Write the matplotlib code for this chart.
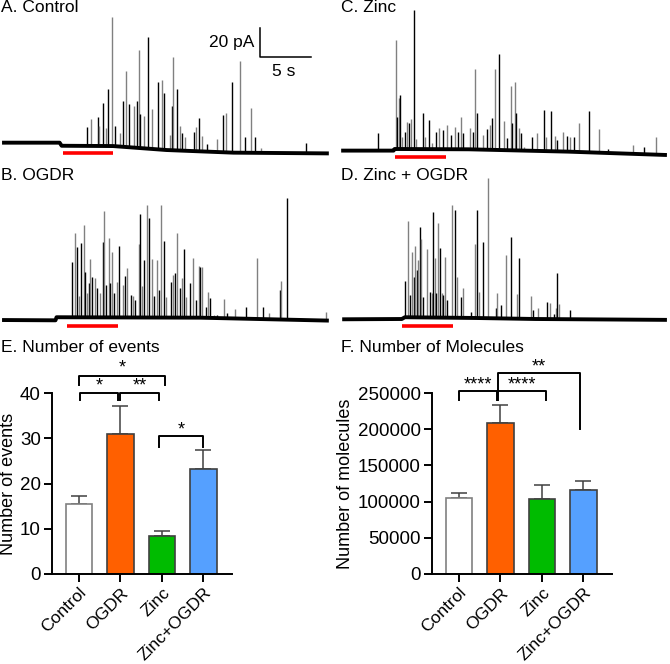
import matplotlib
matplotlib.use('Agg')
import matplotlib.pyplot as plt
import numpy as np

plt.rcParams['font.family'] = ['Liberation Sans', 'DejaVu Sans']
plt.rcParams['font.size'] = 12.5

W, H = 670, 664

# ---------------- amperometric traces (time in s, current in pA) ----------------
# A. Control
ctrl_base_t = [0.2, 5.8, 6.0, 11.0, 16.2, 22.7, 32.0]
ctrl_base_i = [7.3, 7.3, 5.2, 5.0, 2.3, 0.5, 0.0]
ctrl_spike_t = [8.5, 8.9, 9.5, 9.6, 10.0, 10.3, 10.5, 10.9, 11.2, 11.7, 12.0, 12.3,
                12.6, 13.0, 13.3, 13.5, 13.6, 14.0, 14.4, 14.8, 15.4, 15.8, 16.0, 16.5,
                16.7, 16.8, 17.2, 17.5, 17.7, 18.0, 18.9, 19.1, 19.4, 19.7, 20.1, 21.1,
                21.7, 22.0, 22.6, 23.4, 23.8, 24.4, 24.8, 25.4, 29.8]
ctrl_spike_i = [18.2, 23.4, 24.5, 18.6, 34.1, 17.0, 43.6, 92.7, 18.6, 13.6, 35.7, 56.1,
                33.6, 32.3, 35.9, 70.5, 26.6, 25.5, 79.5, 30.0, 48.9, 50.0, 40.9, 12.5,
                32.3, 65.5, 43.6, 18.6, 14.1, 11.4, 14.8, 18.2, 23.9, 11.8, 6.4, 9.5,
                26.1, 27.3, 48.9, 63.2, 11.4, 30.7, 10.9, 3.9, 7.3]
ctrl_stim = [6.1, 11.0, 0.0]

# B. OGDR
ogdr_base_t = [0.2, 5.4, 5.5, 19.5, 32.0]
ogdr_base_i = [1.1, 0.9, 3.0, 2.7, 0.7]
ogdr_spike_t = [7.0, 7.3, 7.5, 7.7, 7.9, 8.2, 8.3, 8.5, 8.7, 8.8, 9.0, 9.2, 9.4, 9.7,
                10.0, 10.1, 10.3, 10.6, 10.7, 10.9, 11.1, 11.4, 11.6, 12.0, 12.2, 12.4,
                12.7, 12.9, 13.1, 13.5, 13.6, 13.8, 14.0, 14.3, 14.5, 14.8, 15.0, 15.3,
                15.5, 15.7, 16.0, 16.2, 16.6, 16.8, 17.0, 17.2, 17.5, 17.7, 17.9, 18.1,
                18.5, 18.8, 19.1, 19.4, 19.5, 19.7, 20.0, 20.2, 20.4, 20.8, 21.1, 21.8,
                22.1, 22.9, 23.9, 25.0, 25.6, 26.2, 27.2, 27.3, 27.9, 31.7]
ogdr_spike_i = [40.5, 60.2, 51.1, 17.5, 53.4, 65.9, 34.1, 19.3, 26.1, 42.7, 30.7, 29.5,
                22.7, 19.3, 54.5, 75.7, 25.0, 56.8, 26.1, 47.7, 19.3, 27.3, 51.6, 25.0,
                31.1, 36.4, 18.2, 17.5, 14.8, 53.0, 73.4, 24.3, 42.0, 79.5, 70.5, 42.5,
                17.5, 42.0, 21.6, 79.5, 55.2, 17.0, 27.3, 31.8, 33.0, 60.2, 22.7, 29.5,
                49.3, 17.0, 26.1, 43.6, 14.8, 38.0, 37.0, 37.0, 10.2, 20.5, 16.4, 4.5,
                4.3, 15.2, 6.1, 8.4, 10.2, 43.2, 10.2, 5.7, 21.6, 28.0, 84.1, 6.8]
ogdr_stim = [6.5, 11.5, -2.7]

# C. Zinc
zinc_base_t = [0.6, 5.7, 5.8, 13.0, 22.7, 32.3]
zinc_base_i = [3.0, 3.0, 4.1, 3.9, 2.3, 0.0]
zinc_spike_t = [4.2, 5.9, 6.0, 6.2, 6.3, 6.5, 6.8, 7.0, 7.2, 7.4, 7.7, 7.9, 8.6, 8.8,
                9.1, 9.4, 9.8, 10.1, 10.5, 10.9, 11.3, 11.7, 12.0, 12.3, 12.5, 13.1,
                13.4, 13.6, 13.8, 14.4, 14.8, 15.1, 15.3, 15.6, 16.0, 16.4, 16.7, 17.1,
                17.2, 17.5, 17.6, 17.9, 18.1, 18.4, 19.2, 19.7, 20.3, 20.5, 21.0, 21.4,
                21.6, 22.2, 22.6, 22.9, 23.3, 23.7, 24.7, 25.7, 26.6, 29.0, 30.1, 31.2]
zinc_spike_i = [14.8, 78.4, 26.1, 38.6, 40.9, 12.5, 15.9, 22.7, 22.0, 24.3, 98.9, 10.7,
                28.4, 12.0, 23.9, 8.0, 15.9, 18.2, 17.0, 20.5, 13.6, 19.3, 15.9, 26.1,
                14.8, 18.2, 15.9, 58.6, 28.9, 13.6, 17.5, 20.5, 25.0, 58.4, 68.9, 23.4,
                11.4, 47.0, 22.0, 49.5, 28.9, 18.2, 15.2, 5.7, 12.0, 14.8, 30.7, 12.0,
                30.2, 13.0, 10.2, 15.7, 13.0, 12.0, 12.5, 22.0, 30.0, 17.5, 3.9, 6.8,
                5.2, 12.5]
zinc_stim = [5.8, 10.8, -1.1]

# D. Zinc + OGDR
zo_base_t = [0.7, 6.5, 6.8, 13.6, 19.5, 32.3]
zo_base_i = [0.9, 1.1, 2.3, 1.8, 1.1, 0.5]
zo_spike_t = [6.8, 7.1, 7.3, 7.5, 7.7, 7.8, 8.0, 8.1, 8.3, 8.4, 8.6, 9.0, 9.2, 9.4,
              9.5, 9.7, 9.8, 10.0, 10.2, 10.4, 10.5, 10.7, 10.9, 11.4, 11.7, 11.9,
              12.3, 12.5, 13.2, 13.6, 13.8, 14.0, 14.4, 14.9, 15.7, 15.8, 16.2, 16.6,
              17.1, 17.7, 17.9, 19.1, 19.3, 19.8, 20.6, 20.9, 21.3, 21.5, 21.6, 21.8,
              22.9]
zo_spike_i = [27.3, 68.0, 17.5, 46.6, 30.0, 50.9, 34.5, 41.4, 64.1, 55.5, 16.4, 48.6,
              19.8, 18.6, 74.3, 42.5, 18.6, 66.4, 49.3, 18.6, 17.5, 43.6, 14.1, 78.9,
              75.5, 30.0, 16.4, 22.0, 6.1, 52.3, 75.5, 19.8, 53.9, 97.5, 8.4, 18.6,
              10.7, 44.8, 56.8, 18.2, 42.5, 16.8, 7.3, 8.4, 13.0, 11.8, 4.5, 8.4,
              32.7, 11.4, 7.3]
zo_stim = [6.5, 11.5, -3.4]

# ---------------- summary bars ----------------
groups = ['Control', 'OGDR', 'Zinc', 'Zinc+OGDR']
bar_colors = ['#FFFFFF', '#FF6000', '#00BB00', '#55A0FF']
bar_edges = ['#808080', '#404040', '#404040', '#404040']

events_mean = [15.4, 30.9, 8.4, 23.1]
events_upper = [17.3, 37.2, 9.5, 27.4]

molec_mean = [105000, 208000, 103500, 116000]
molec_upper = [111500, 234000, 123000, 128000]


def px_axes(fig, x0, y0, x1, y1):
    return fig.add_axes([x0 / W, 1 - y1 / H, (x1 - x0) / W, (y1 - y0) / H])


def draw_trace(ax, base_t, base_i, spike_t, spike_i, stim, ylim):
    ax.set_xlim(0, 32.6)
    ax.set_ylim(*ylim)
    ax.axis('off')
    st = np.array(spike_t)
    bottoms = np.interp(st, base_t, base_i)
    shades = ['black' if k % 2 == 0 else '0.5' for k in range(len(st))]
    ax.vlines(st, bottoms, spike_i, colors=shades, linewidth=1.0)
    ax.plot(base_t, base_i, color='black', linewidth=2.8, solid_capstyle='butt')
    ax.plot(stim[:2], [stim[2], stim[2]], color='#FF0000', linewidth=2.6,
            solid_capstyle='butt')


def bracket(ax, x0, x1, y, y0, y1, label, ty):
    ax.plot([x0, x0, x1, x1], [y0, y, y, y1], color='black', linewidth=1.4,
            clip_on=False)
    ax.text((x0 + x1) / 2, ty, label, ha='center', va='center', fontsize=13,
            clip_on=False)


fig = plt.figure(figsize=(W / 100, H / 100), dpi=100)

axA = px_axes(fig, 0, 0, 335, 160)
draw_trace(axA, ctrl_base_t, ctrl_base_i, ctrl_spike_t, ctrl_spike_i, ctrl_stim,
           (-4.5, 104.5))
# scale bar
axA.plot([25.3, 25.3, 30.3], [85.5, 65.5, 65.5], color='black', linewidth=1.1)
axA.text(24.8, 75.5, '20 pA', ha='right', va='center', fontsize=12.5)
axA.text(27.6, 55.5, '5 s', ha='center', va='center', fontsize=12.5)

axC = px_axes(fig, 335, 0, 670, 160)
draw_trace(axC, zinc_base_t, zinc_base_i, zinc_spike_t, zinc_spike_i, zinc_stim,
           (-3.4, 105.7))

axB = px_axes(fig, 0, 160, 335, 330)
draw_trace(axB, ogdr_base_t, ogdr_base_i, ogdr_spike_t, ogdr_spike_i, ogdr_stim,
           (-5.7, 110.2))

axD = px_axes(fig, 335, 160, 670, 330)
draw_trace(axD, zo_base_t, zo_base_i, zo_spike_t, zo_spike_i, zo_stim,
           (-6.4, 109.5))

fig.text(1 / W, 1 - 0 / H, 'A. Control', ha='left', va='top', fontsize=12.5)
fig.text(341 / W, 1 - 0 / H, 'C. Zinc', ha='left', va='top', fontsize=12.5)
fig.text(1 / W, 1 - 168 / H, 'B. OGDR', ha='left', va='top', fontsize=12.5)
fig.text(341 / W, 1 - 168 / H, 'D. Zinc + OGDR', ha='left', va='top', fontsize=12.5)
fig.text(1 / W, 1 - 340 / H, 'E. Number of events', ha='left', va='top', fontsize=12.5)
fig.text(341 / W, 1 - 340 / H, 'F. Number of Molecules', ha='left', va='top',
         fontsize=12.5)

x = np.arange(len(groups))


def bar_panel(ax, mean, upper, yticks, ylabel):
    ax.bar(x, mean, width=0.64, color=bar_colors, edgecolor=bar_edges, linewidth=1.2,
           zorder=2)
    err = np.array(upper) - np.array(mean)
    ax.errorbar(x, mean, yerr=[np.zeros_like(err), err], fmt='none', ecolor='#404040',
                elinewidth=1.1, capsize=6, capthick=1.1, zorder=1)
    ax.set_xlim(-0.65, 3.69)
    ax.set_ylim(0, yticks[-1])
    ax.set_yticks(yticks)
    ax.set_yticklabels([str(v) for v in yticks])
    ax.set_xticks(x)
    ax.set_xticklabels(groups, rotation=45, ha='right', rotation_mode='anchor',
                       fontsize=12.6)
    ax.set_ylabel(ylabel, fontsize=13)
    for s in ['top', 'right']:
        ax.spines[s].set_visible(False)
    for s in ['left', 'bottom']:
        ax.spines[s].set_linewidth(1.4)
    ax.tick_params(length=6, width=1.4, pad=2)
    ax.tick_params(axis='y', labelsize=13.5)


axE = px_axes(fig, 52, 393, 232, 574)
bar_panel(axE, events_mean, events_upper, [0, 10, 20, 30, 40], 'Number of events')
axE.yaxis.labelpad = 2
bracket(axE, 0.02, 0.95, 40.0, 38.4, 38.4, '*', 41.6)
bracket(axE, 1.0, 1.93, 40.0, 38.4, 38.4, '**', 41.6)
bracket(axE, 0.0, 2.08, 43.7, 41.8, 41.8, '*', 45.6)
bracket(axE, 1.93, 2.99, 30.4, 28.0, 28.0, '*', 31.8)

axF = px_axes(fig, 432, 393, 612, 574)
bar_panel(axF, molec_mean, molec_upper, [0, 50000, 100000, 150000, 200000, 250000],
          'Number of molecules')
axF.yaxis.labelpad = 3
bracket(axF, 0.0, 0.92, 252300, 239800, 239800, '****', 260500)
bracket(axF, 0.95, 2.09, 252300, 239800, 239800, '****', 260500)
bracket(axF, 0.95, 2.91, 277700, 252300, 200600, '**', 286000)

fig.savefig('out.png', dpi=100)
